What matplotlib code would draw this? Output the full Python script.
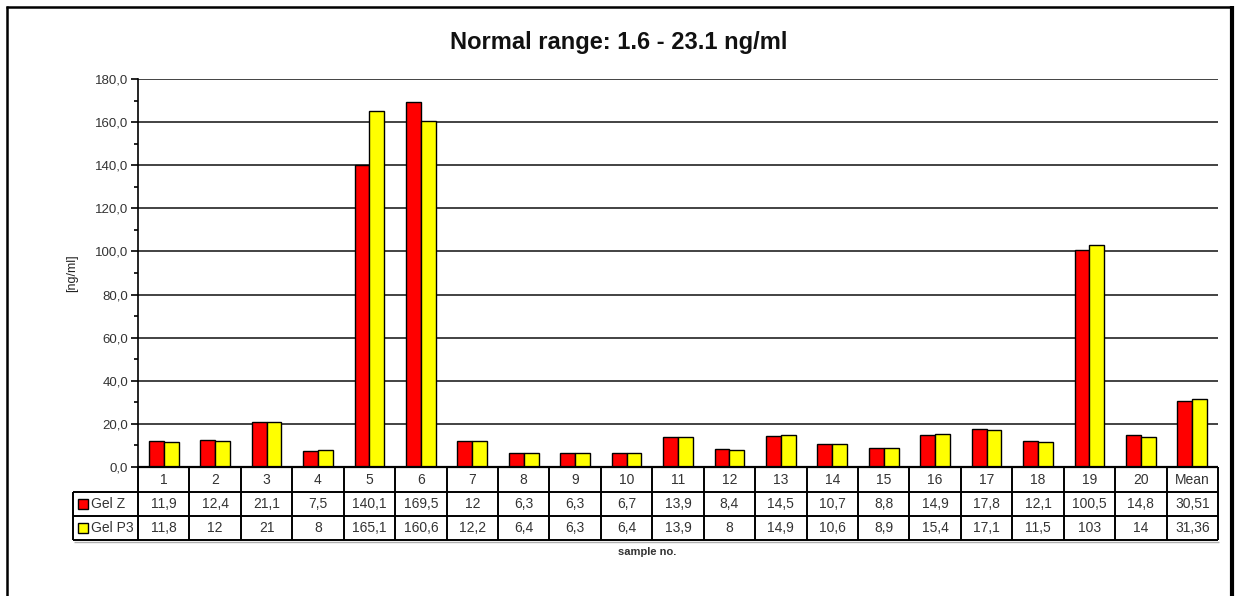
import numpy as np
import matplotlib.pyplot as plt
from matplotlib.lines import Line2D
from matplotlib.patches import Rectangle
from matplotlib.ticker import MultipleLocator, FuncFormatter

plt.rcParams['font.family'] = ['Liberation Sans Narrow', 'Liberation Sans', 'DejaVu Sans']

categories = [str(i) for i in range(1, 21)] + ['Mean']
gel_z = [11.9, 12.4, 21.1, 7.5, 140.1, 169.5, 12, 6.3, 6.3, 6.7, 13.9, 8.4,
         14.5, 10.7, 8.8, 14.9, 17.8, 12.1, 100.5, 14.8, 30.51]
gel_p3 = [11.8, 12, 21, 8, 165.1, 160.6, 12.2, 6.4, 6.3, 6.4, 13.9, 8,
          14.9, 10.6, 8.9, 15.4, 17.1, 11.5, 103, 14, 31.36]
series_names = ['Gel Z', 'Gel P3']
series_colors = ['#ff0000', '#ffff00']

W, H = 1236, 596
fig = plt.figure(figsize=(W / 100, H / 100), dpi=100)


def fx(px):
    return px / W


def fy(py):
    return 1 - py / H


def hline(x0, x1, y, lw=1.2, color='black'):
    fig.add_artist(Line2D([fx(x0), fx(x1)], [fy(y), fy(y)], lw=lw, color=color,
                          transform=fig.transFigure, solid_capstyle='butt'))


def vline(x, y0, y1, lw=1.2, color='black'):
    fig.add_artist(Line2D([fx(x), fx(x)], [fy(y0), fy(y1)], lw=lw, color=color,
                          transform=fig.transFigure, solid_capstyle='butt'))


# outer chart frame
hline(6, 1233, 7, lw=1.8)
vline(7, 6, H, lw=1.8)
vline(1232, 6, H, lw=3.0)

# plot area
x_left, x_right, y_top, y_bot = 138, 1218, 79, 467
ax = fig.add_axes([fx(x_left), fy(y_bot), fx(x_right - x_left), (y_bot - y_top) / H])
n = len(categories)
x = np.arange(n)
bw = 0.29
for i, (vals, col) in enumerate(zip([gel_z, gel_p3], series_colors)):
    ax.bar(x + (i - 0.5) * bw, vals, width=bw, color=col, edgecolor='black',
           linewidth=1.0, zorder=3)

ax.set_xlim(-0.5, n - 0.5)
ax.set_ylim(0, 180)
ax.yaxis.set_major_locator(MultipleLocator(20))
ax.yaxis.set_minor_locator(MultipleLocator(10))
ax.yaxis.set_major_formatter(FuncFormatter(lambda v, p: f'{v:.1f}'.replace('.', ',')))
ax.tick_params(axis='y', which='major', length=5, width=1.2, labelsize=9.5, pad=2,
               labelcolor='#333333')
ax.tick_params(axis='y', which='minor', length=3, width=1.2)
ax.set_xticks([])
ax.grid(axis='y', which='major', color='#222222', lw=1.2, zorder=0)
for s in ['top', 'right', 'bottom']:
    ax.spines[s].set_visible(False)
ax.spines['left'].set_linewidth(1.2)
ax.set_ylabel('[ng/ml]', fontsize=9, labelpad=12, color='#222222')

fig.text(fx(619), fy(42), 'Normal range: 1.6 - 23.1 ng/ml',
         ha='center', va='center', fontsize=17, fontweight='bold', color='#111111',
         family=['Liberation Sans', 'DejaVu Sans'])

# data table under the plot
rows_y = [467, 492, 516, 540]
legend_x = 73
col_w = (x_right - x_left) / n
hline(x_left, x_right, rows_y[0], lw=1.6)
for yy in rows_y[1:]:
    hline(legend_x, x_right, yy, lw=1.4)
for j in range(n + 1):
    vline(x_left + j * col_w, rows_y[0], rows_y[3], lw=1.4)
vline(legend_x, rows_y[1], rows_y[3], lw=1.4)
# faint shadow along the table's lower edge
hline(legend_x + 1, x_right + 1, rows_y[3] + 1.5, lw=1.0, color='#b0b0b0')

fmt = lambda v: f'{v:g}'.replace('.', ',')
for j, cat in enumerate(categories):
    cx = x_left + (j + 0.5) * col_w
    fig.text(fx(cx), fy((rows_y[0] + rows_y[1]) / 2), cat, ha='center', va='center',
             fontsize=10, color='#333333')
    for r, vals in enumerate([gel_z, gel_p3]):
        fig.text(fx(cx), fy((rows_y[r + 1] + rows_y[r + 2]) / 2), fmt(vals[j]),
                 ha='center', va='center', fontsize=10, color='#333333')

for r, (name, col) in enumerate(zip(series_names, series_colors)):
    cy = (rows_y[r + 1] + rows_y[r + 2]) / 2
    fig.add_artist(Rectangle((fx(78), fy(cy + 5)), fx(10), 10 / H, facecolor=col,
                             edgecolor='black', lw=1.0, transform=fig.transFigure))
    fig.text(fx(91), fy(cy), name, ha='left', va='center', fontsize=10, color='#333333')

fig.text(fx(647), fy(552), 'sample no.', ha='center', va='center', fontsize=8,
         fontweight='bold', family=['Liberation Sans', 'DejaVu Sans'], color='#333333')

fig.savefig('out.png', dpi=100, facecolor='white')
